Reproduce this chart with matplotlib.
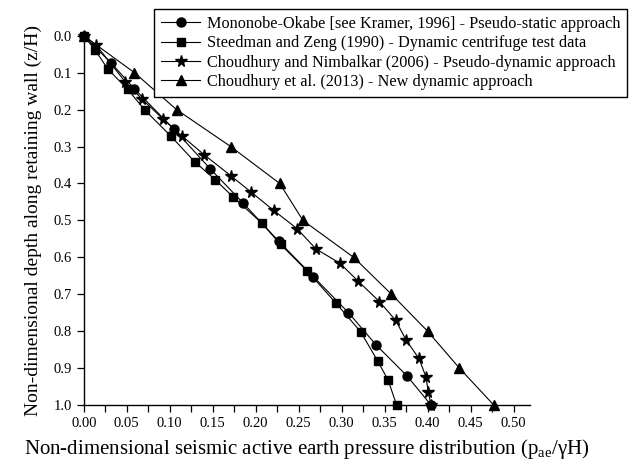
import matplotlib.pyplot as plt
from matplotlib.ticker import MultipleLocator

plt.rcParams['font.family'] = ['Liberation Serif', 'DejaVu Serif']
plt.rcParams['mathtext.fontset'] = 'custom'
plt.rcParams['mathtext.rm'] = 'Liberation Serif'
plt.rcParams['mathtext.it'] = 'Liberation Serif'

# Mononobe-Okabe (circles)
mo_x = [0.0, 0.032, 0.059, 0.105, 0.147, 0.185, 0.227, 0.267, 0.308, 0.340, 0.376, 0.404]
mo_z = [0.0, 0.074, 0.144, 0.253, 0.360, 0.452, 0.557, 0.652, 0.750, 0.837, 0.921, 1.0]

# Steedman and Zeng (squares)
sz_x = [0.0, 0.013, 0.028, 0.051, 0.071, 0.101, 0.129, 0.153, 0.174, 0.207, 0.229,
        0.260, 0.293, 0.322, 0.342, 0.354, 0.364]
sz_z = [0.0, 0.038, 0.090, 0.145, 0.201, 0.271, 0.341, 0.390, 0.437, 0.507, 0.565,
        0.637, 0.723, 0.801, 0.881, 0.932, 1.0]

# Choudhury and Nimbalkar (stars)
cn_x = [0.0, 0.014, 0.048, 0.068, 0.092, 0.114, 0.140, 0.171, 0.194, 0.221, 0.248,
        0.270, 0.298, 0.319, 0.344, 0.363, 0.375, 0.390, 0.398, 0.401, 0.404]
cn_z = [0.0, 0.024, 0.124, 0.172, 0.225, 0.271, 0.322, 0.379, 0.422, 0.473, 0.522,
        0.577, 0.616, 0.664, 0.720, 0.771, 0.824, 0.874, 0.923, 0.966, 1.0]

# Choudhury et al. 2013 (triangles)
ce_x = [0.0, 0.059, 0.108, 0.171, 0.228, 0.255, 0.314, 0.358, 0.400, 0.437, 0.477]
ce_z = [0.0, 0.1, 0.2, 0.3, 0.4, 0.5, 0.6, 0.7, 0.8, 0.9, 1.0]

labels = [
    'Mononobe-Okabe [see Kramer, 1996] - Pseudo-static approach',
    'Steedman and Zeng (1990) - Dynamic centrifuge test data',
    'Choudhury and Nimbalkar (2006) - Pseudo-dynamic approach',
    'Choudhury et al. (2013) - New dynamic approach',
]

fig = plt.figure(figsize=(6.3, 4.65), dpi=100)
ax = fig.add_axes([0.133, 0.129, 0.708, 0.794])

kw = dict(color='black', linewidth=0.8, clip_on=False)
l1, = ax.plot(mo_x, mo_z, marker='o', markersize=6.5, **kw)
l2, = ax.plot(sz_x, sz_z, marker='s', markersize=5.8, **kw)
l3, = ax.plot(cn_x, cn_z, marker='*', markersize=8.5, **kw)
l4, = ax.plot(ce_x, ce_z, marker='^', markersize=7.5, **kw)

ax.set_xlim(0, 0.519)
ax.set_ylim(1.0, 0.0)
ax.xaxis.set_major_locator(MultipleLocator(0.05))
ax.xaxis.set_minor_locator(MultipleLocator(0.025))
ax.yaxis.set_major_locator(MultipleLocator(0.1))
ax.xaxis.set_major_formatter(plt.FormatStrFormatter('%.2f'))
ax.yaxis.set_major_formatter(plt.FormatStrFormatter('%.1f'))
ax.tick_params(which='both', direction='out', length=5, width=0.9, labelsize=10.5)
ax.spines['top'].set_visible(False)
ax.spines['right'].set_visible(False)
ax.spines['left'].set_linewidth(1.0)
ax.spines['bottom'].set_linewidth(1.0)

ax.set_ylabel('Non-dimensional depth along retaining wall (z/H)', fontsize=14, labelpad=8)
ax.set_xlabel(r'Non-dimensional seismic active earth pressure distribution (p$_{\mathrm{ae}}$/$\gamma$H)',
              fontsize=15, labelpad=5)

leg = fig.legend([l1, l2, l3, l4], labels, loc='upper right',
                 bbox_to_anchor=(0.996, 0.981), fontsize=11.7, frameon=True,
                 fancybox=False, edgecolor='black', framealpha=1,
                 handlelength=2.4, handletextpad=0.4, labelspacing=0.2,
                 borderpad=0.45, borderaxespad=0)
leg.get_frame().set_linewidth(1.0)

fig.savefig('out.png', dpi=100)
